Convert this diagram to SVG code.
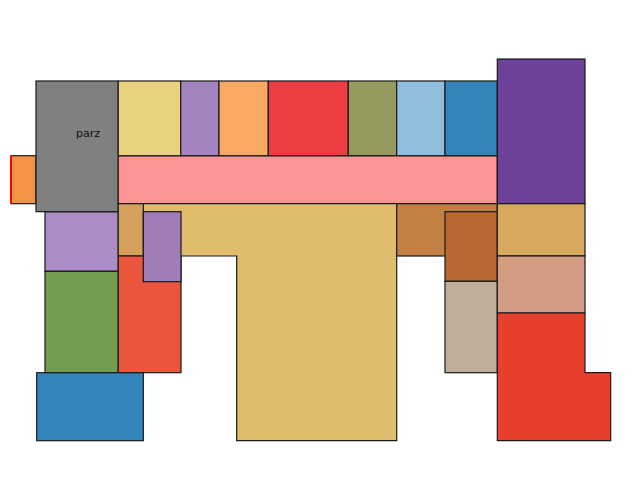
<svg xmlns="http://www.w3.org/2000/svg" width="640" height="500" viewBox="0 0 640 500">
<style>
.r{stroke:#1a1a1a;stroke-width:1.2;stroke-linejoin:miter}
.t{font-family:"DejaVu Sans",sans-serif;font-size:11px;fill:#111}
</style>
<rect width="640" height="500" fill="#ffffff"/>
<g id="plan">
<rect id="orange-small" class="r" x="11" y="155.7" width="25" height="48" fill="#f39343"/>
<line x1="11" y1="155.7" x2="11" y2="203.7" stroke="#ff0000" stroke-width="2"/>
<rect id="pink-hall" class="r" x="118" y="155.7" width="379.3" height="48" fill="#fb9494"/>
<rect class="r" x="118" y="81" width="62.7" height="74.7" fill="#ead37e"/>
<rect class="r" x="180.7" y="81" width="38.3" height="74.7" fill="#a384be"/>
<rect class="r" x="219" y="81" width="49.3" height="74.7" fill="#f9a962"/>
<rect class="r" x="268.3" y="81" width="80" height="74.7" fill="#ec3e42"/>
<rect class="r" x="348.3" y="81" width="48.4" height="74.7" fill="#959a5f"/>
<rect class="r" x="396.7" y="81" width="48.3" height="74.7" fill="#8fbfdc"/>
<rect class="r" x="445" y="81" width="52.3" height="74.7" fill="#3384bb"/>
<rect class="r" x="497.3" y="59" width="87.7" height="144.7" fill="#6e419a"/>
<polygon class="r" points="143.3,203.7 396.7,203.7 396.7,440.7 236.7,440.7 236.7,256 143.3,256" fill="#dfbd6c"/>
<rect class="r" x="118" y="203.7" width="25.3" height="52.3" fill="#d4a05c"/>
<rect class="r" x="118" y="256" width="63" height="116.7" fill="#eb553b"/>
<rect class="r" x="143.3" y="211.7" width="37.7" height="70" fill="#9e7db9"/>
<rect class="r" x="45" y="211.7" width="73" height="59.6" fill="#ac8cc5"/>
<rect class="r" x="45" y="271.3" width="73" height="101.4" fill="#739e51"/>
<rect class="r" x="36.7" y="372.7" width="106.6" height="68" fill="#3384bb"/>
<rect id="gray" class="r" x="36" y="81" width="82" height="130.7" fill="#808080" stroke="#333"/>
<text class="t" x="76" y="137">parz</text>
<rect class="r" x="396.7" y="203.7" width="100.6" height="52.3" fill="#c38043"/>
<rect class="r" x="445" y="211.7" width="52.3" height="69.6" fill="#b86932"/>
<rect class="r" x="445" y="281.3" width="52.3" height="91.4" fill="#c0ae9a"/>
<rect class="r" x="497.3" y="203.7" width="87.7" height="52.3" fill="#d6a95e"/>
<rect class="r" x="497.3" y="256" width="87.7" height="57" fill="#d39d84"/>
<polygon class="r" points="497.3,313 585,313 585,372.7 610.7,372.7 610.7,440.7 497.3,440.7" fill="#e83e2c"/>
</g>
</svg>
